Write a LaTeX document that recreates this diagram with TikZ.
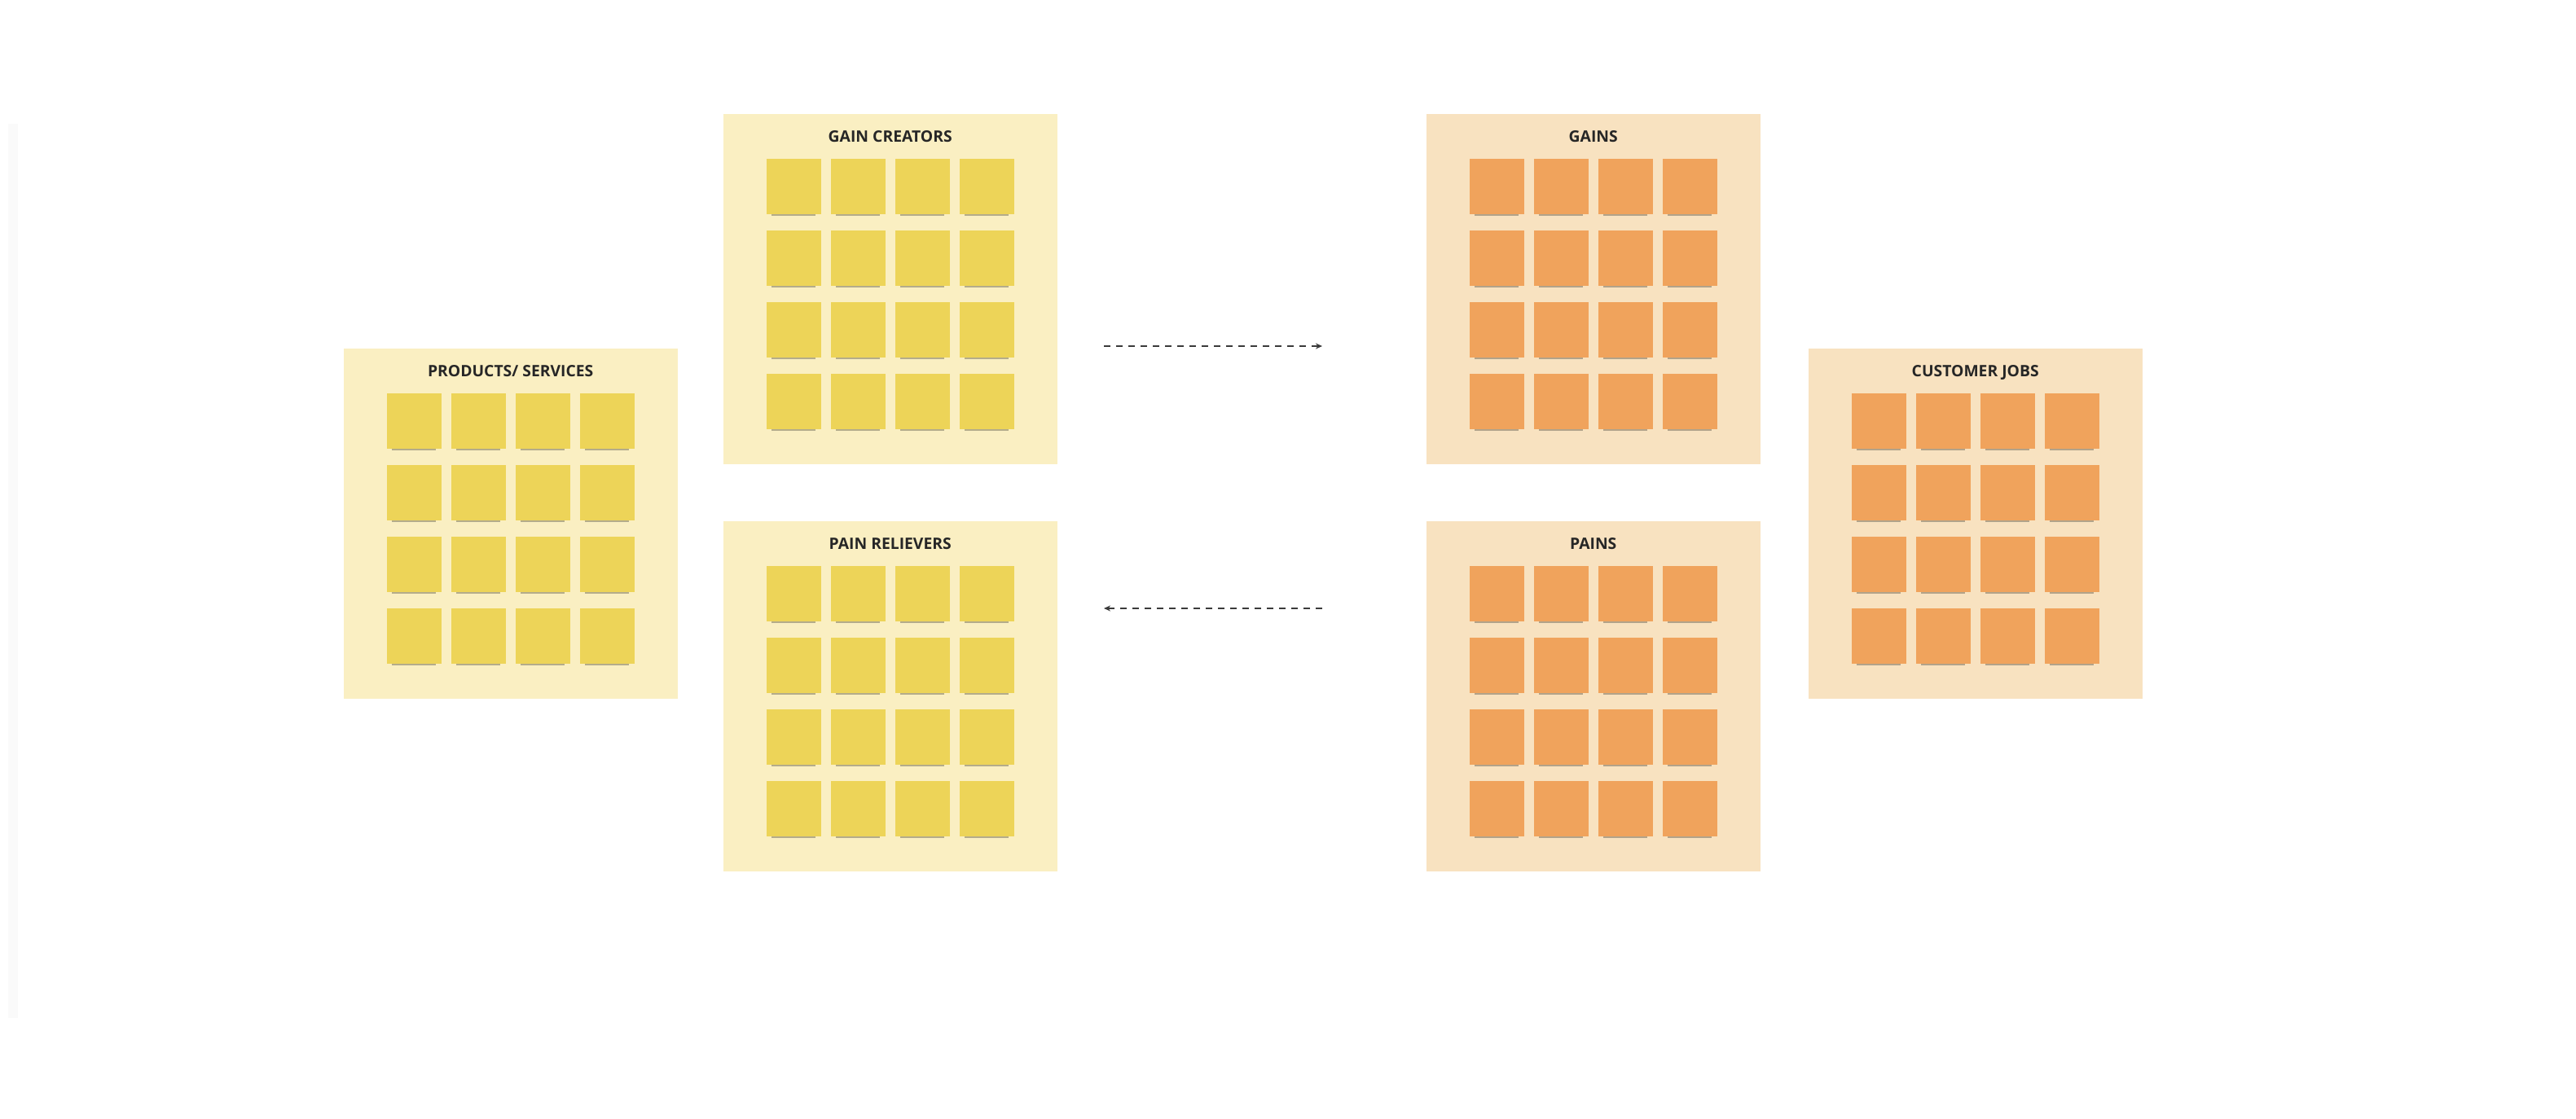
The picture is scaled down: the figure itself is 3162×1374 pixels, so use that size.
\documentclass[tikz,border=0pt]{standalone}
\usepackage{fontspec}
\setmainfont{Open Sans}
\usetikzlibrary{positioning,calc,arrows.meta,shadows}
\definecolor{panel-yellow}{HTML}{FAEFC2}
\definecolor{note-yellow}{HTML}{EDD458}
\definecolor{panel-orange}{HTML}{F8E2C0}
\definecolor{note-orange}{HTML}{F0A35C}
\definecolor{arrow-grey}{HTML}{3A3A3A}
\tikzset{
    panel-box/.style = {rectangle, minimum width=41mm, minimum height=43mm, inner sep=0pt, anchor=north west},
    panel-title/.style = {font=\bfseries\fontsize{5.5}{6.5}\selectfont, text=black!85, inner sep=0pt, anchor=base},
    sticky-note/.style = {rectangle, minimum width=6.7mm, minimum height=6.8mm, inner sep=0pt, anchor=north west,
        drop shadow={shadow xshift=0mm, shadow yshift=-1.1mm, shadow scale=0.8, fill=black, opacity=0.28}},
    flow-arrow/.style = {draw=arrow-grey, line width=0.2mm, dash pattern=on 0.8mm off 0.7mm, -{Stealth[length=0.8mm,width=0.7mm]}},
}

\begin{document}
\begin{tikzpicture}[x=0.1mm, y=-0.1mm]
\useasboundingbox (0,0) rectangle (3162,1374);
\fill[white] (0,0) rectangle (3162,1374);
\fill[black!2] (10,152) rectangle (22,1250);

% value map side
\node[panel-box, fill=panel-yellow] (prod) at (421,427) {};
\node[panel-box, fill=panel-yellow] (gc) at (887,139) {};
\node[panel-box, fill=panel-yellow] (pr) at (887,639) {};
% customer side
\node[panel-box, fill=panel-orange] (gains) at (1750,139) {};
\node[panel-box, fill=panel-orange] (pains) at (1750,639) {};
\node[panel-box, fill=panel-orange] (jobs) at (2219,427) {};

\node[panel-title] (prod-title) at ($(prod.north)+(0,36)$) {PRODUCTS/ SERVICES};
\node[panel-title] (gc-title) at ($(gc.north)+(0,36)$) {GAIN CREATORS};
\node[panel-title] (pr-title) at ($(pr.north)+(0,36)$) {PAIN RELIEVERS};
\node[panel-title] (gains-title) at ($(gains.north)+(0,36)$) {GAINS};
\node[panel-title] (pains-title) at ($(pains.north)+(0,36)$) {PAINS};
\node[panel-title] (jobs-title) at ($(jobs.north)+(0,36)$) {CUSTOMER JOBS};

\foreach \p/\c in {prod/note-yellow, gc/note-yellow, pr/note-yellow, gains/note-orange, pains/note-orange, jobs/note-orange}
  \foreach \r in {1,...,4}
    \foreach \k in {1,...,4}
      \node[sticky-note, fill=\c] (\p-\r-\k) at ($(\p.north west)+({53+79*(\k-1)},{55+88*(\r-1)})$) {};

\coordinate (fit-top-a) at (1355,425);
\coordinate (fit-top-b) at (1623,425);
\coordinate (fit-bot-a) at (1623,747);
\coordinate (fit-bot-b) at (1355,747);
\draw[flow-arrow] (fit-top-a) -- (fit-top-b);
\draw[flow-arrow] (fit-bot-a) -- (fit-bot-b);
\end{tikzpicture}
\end{document}
